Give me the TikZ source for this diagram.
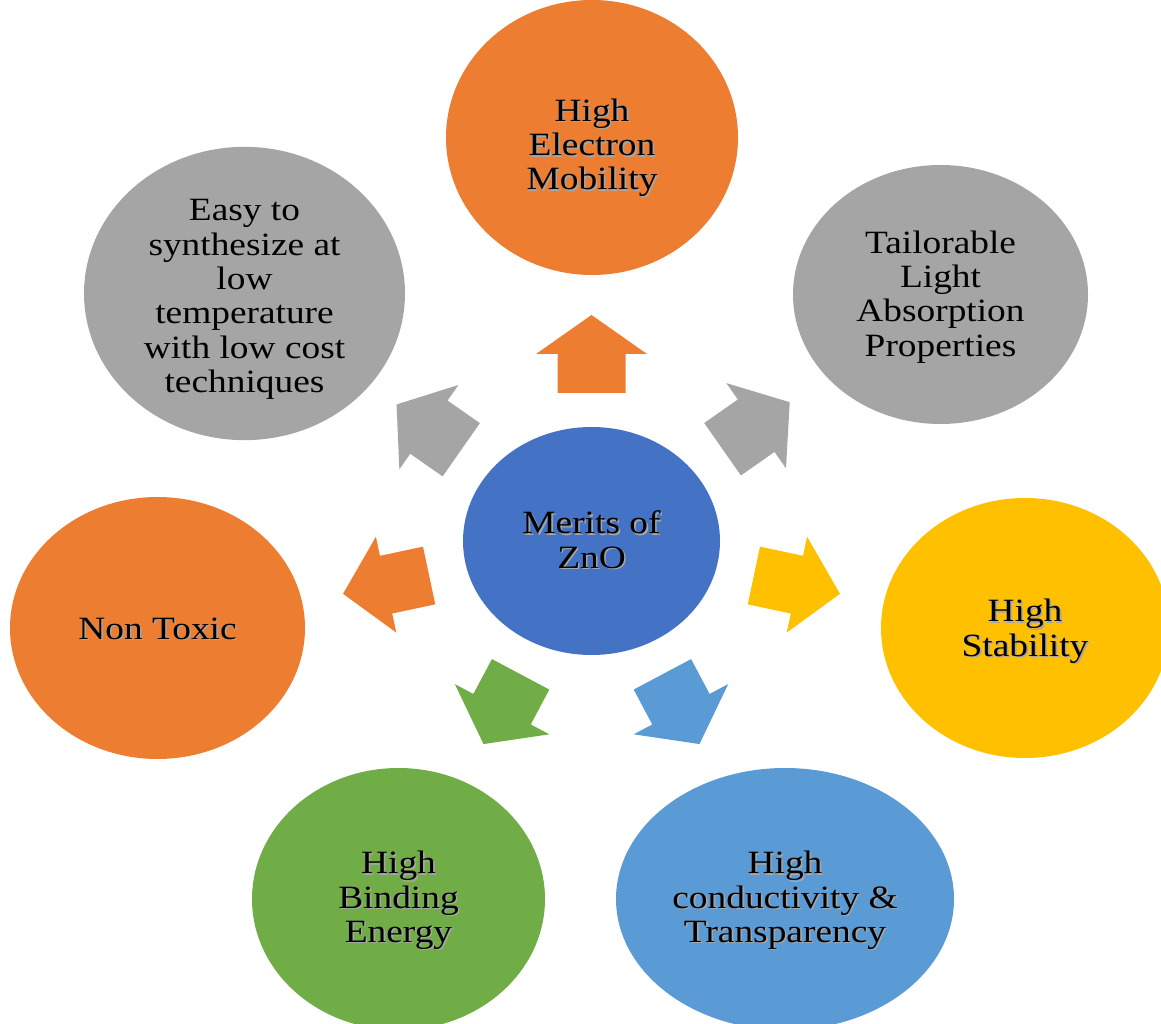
\documentclass[tikz,border=0pt]{standalone}
\usepackage{fontspec}
\setmainfont{Liberation Serif}[FakeStretch=1.15]
\usetikzlibrary{shapes.geometric}
\definecolor{mOrange}{HTML}{ED7D31}
\definecolor{mGray}{HTML}{A5A5A5}
\definecolor{mBlue}{HTML}{4472C4}
\definecolor{mYellow}{HTML}{FFC000}
\definecolor{mGreen}{HTML}{70AD47}
\definecolor{mSky}{HTML}{5B9BD5}
\newcommand\shadowed[2][5pt]{\raisebox{-#1}[\height][\depth]{%
  \rlap{\hspace{1.6pt}\raisebox{-1.6pt}{\color{black!35}\begin{tabular}{@{}c@{}}#2\end{tabular}}}%
  \begin{tabular}{@{}c@{}}#2\end{tabular}}}

\begin{document}
\begin{tikzpicture}[x=1pt, y=1pt,
  merit/.style={ellipse, inner sep=0pt, font=\fontsize{32.5}{34.3}\selectfont}]
\clip (0,0) rectangle (1161,1023);
\node[merit, fill=mBlue, minimum width=257pt, minimum height=228pt] (Z) at (591.5,482) {\shadowed[4pt]{Merits of\\ZnO}};
\node[merit, fill=mOrange, minimum width=292pt, minimum height=275pt] (M) at (592,885.5) {\shadowed[12pt]{High\\Electron\\Mobility}};
\node[merit, fill=mGray, minimum width=321pt, minimum height=261pt] (E) at (244.5,729.5) {\shadowed[7pt]{Easy to\\synthesize at\\low\\temperature\\with low cost\\techniques}};
\node[merit, fill=mGray, minimum width=295pt, minimum height=259pt] (T) at (940.5,728.5) {\shadowed[4pt]{Tailorable\\Light\\Absorption\\Properties}};
\node[merit, fill=mOrange, minimum width=295pt, minimum height=262pt] (N) at (157.5,395) {\shadowed{Non Toxic}};
\node[merit, fill=mYellow, minimum width=288pt, minimum height=260pt] (S) at (1025,395) {\shadowed{High\\Stability}};
\node[merit, fill=mGreen, minimum width=293pt, minimum height=262pt] (B) at (398.5,124) {\shadowed[3pt]{High\\Binding\\Energy}};
\node[merit, fill=mSky, minimum width=338pt, minimum height=262pt] (C) at (785,124) {\shadowed[3pt]{High\\conductivity \&\\Transparency}};
\foreach \a/\d/\l/\w/\h/\c in {90/148/78/68/111/mOrange, 145/159/79/65/103/mGray,
    35/160/82/64/104/mGray, 192/166/88/59/98/mOrange, 348/166/88/59/98/mYellow,
    242/151/79/65/107/mGreen, 298/151/79/65/107/mSky}
  \fill[\c, shift={(Z.center)}, rotate=\a]
    (\d,-\w/2) -- (\d+\l/2,-\w/2) -- (\d+\l/2,-\h/2) -- (\d+\l,0)
    -- (\d+\l/2,\h/2) -- (\d+\l/2,\w/2) -- (\d,\w/2) -- cycle;
\end{tikzpicture}
\end{document}
